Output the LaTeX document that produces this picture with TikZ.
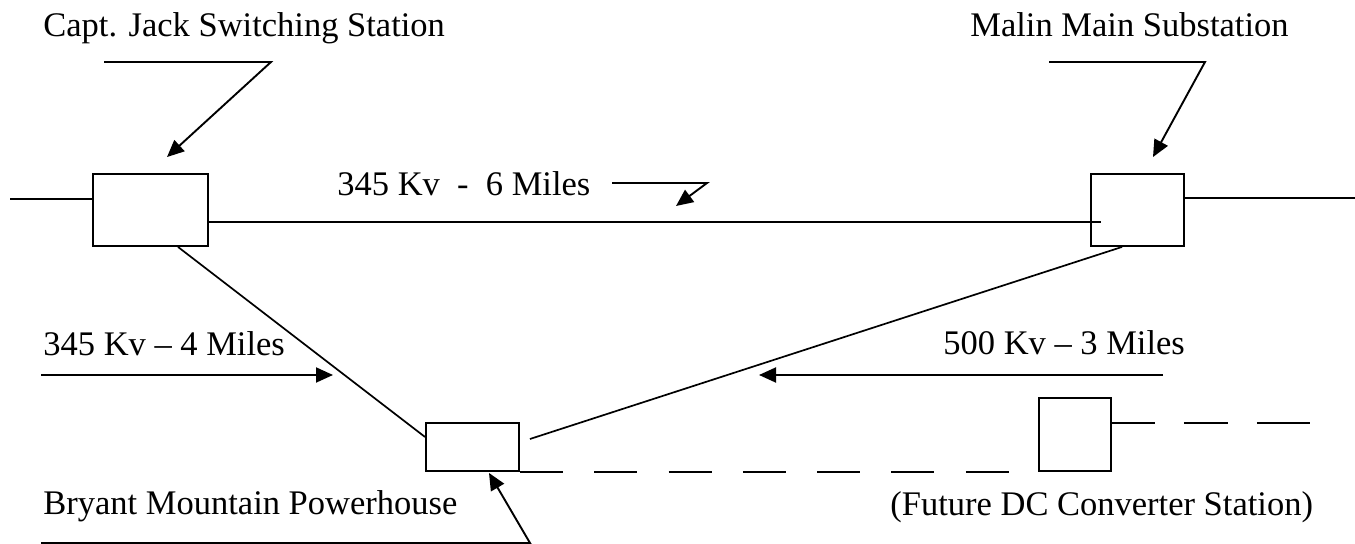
\documentclass[tikz,border=0pt]{standalone}
\usepackage{fontspec}
\setmainfont{Liberation Serif}
\usetikzlibrary{arrows.meta,calc}
\begin{document}
\begin{tikzpicture}[x=0.5pt,y=-0.5pt,
  lbl/.style={anchor=base west,inner sep=0pt,font=\fontsize{17.25}{20}\selectfont},
  station/.style={draw,line width=0.95pt,inner sep=0pt},
  wire/.style={line width=0.85pt},
  callout/.style={line width=0.95pt,-{Triangle[length=8.5pt,width=7.5pt]}},
  futureA/.style={line width=0.95pt,dash pattern=on 21.5pt off 15.65pt},
  futureB/.style={line width=0.95pt,dash pattern=on 21.5pt off 14.5pt on 22pt off 14.5pt on 27pt off 20pt},
]
\useasboundingbox (0,0) rectangle (1355,544);
% stations
\node[station,minimum width=57.5pt,minimum height=36pt] (cj) at (150.5,210) {};
\node[station,minimum width=46.5pt,minimum height=36pt] (malin) at (1137.5,210) {};
\node[station,minimum width=46.5pt,minimum height=24pt] (bry) at (472.5,447) {};
\node[station,minimum width=36pt,minimum height=36.5pt] (dc) at (1075,434.5) {};
% labels
\node[lbl] (tcj) at (43,37) {Capt. Jack Switching Station};
\node[lbl] (tmal) at (970,37) {Malin Main Substation};
\node[lbl] (t6) at (337,196) {345 Kv\ \ -\ \ 6 Miles};
\node[lbl] (t4) at (43,356) {345 Kv -- 4 Miles};
\node[lbl] (t3) at (943,355) {500 Kv -- 3 Miles};
\node[lbl] (tbry) at (43,515) {Bryant Mountain Powerhouse};
\node[lbl] (tdc) at (890,516) {(Future DC Converter Station)};
% lines
\coordinate (lft) at (10,199);
\coordinate (rgt) at (1355,198);
\coordinate (lvl) at (0,222);
\coordinate (dcl) at (0,423);
\coordinate (dce) at (1310,423);
\draw[wire] (lft) -- (lft -| cj.west);
\draw[wire] (cj.east |- lvl) -- ($(malin.west |- lvl)+(11,0)$);
\draw[wire] (malin.east |- rgt) -- (rgt);
\draw[wire] ($(cj.south)+(27.5,0)$) -- ($(bry.west)+(0,-10)$);
\draw[wire] ($(malin.south)+(-15.5,0)$) -- ($(bry.east)+(10,-8)$);
\draw[futureA] (bry.south east) -- (bry.south east -| dc.west);
\draw[futureB] (dc.east |- dcl) -- (dce);
% callouts
\coordinate (c1a) at (104,62);
\coordinate (c1b) at (271,62);
\draw[callout] (c1a) -- (c1b) -- ($(cj.north)+(16.5,-16)$);
\coordinate (c2a) at (1049,62);
\coordinate (c2b) at (1205,62);
\draw[callout] (c2a) -- (c2b) -- ($(malin.north)+(15.5,-16)$);
\coordinate (c3a) at (612,183);
\coordinate (c3b) at (707,183);
\coordinate (c3c) at (676,206);
\draw[callout] (c3a) -- (c3b) -- (c3c);
\coordinate (c4a) at (41,375);
\coordinate (c4b) at (333,375);
\draw[callout] (c4a) -- (c4b);
\coordinate (c5a) at (1163,375);
\coordinate (c5b) at (759,375);
\draw[callout] (c5a) -- (c5b);
\coordinate (c6a) at (41,543);
\coordinate (c6b) at (530,543);
\draw[callout] (c6a) -- (c6b) -- ($(bry.south)+(16.5,1)$);
\end{tikzpicture}
\end{document}
